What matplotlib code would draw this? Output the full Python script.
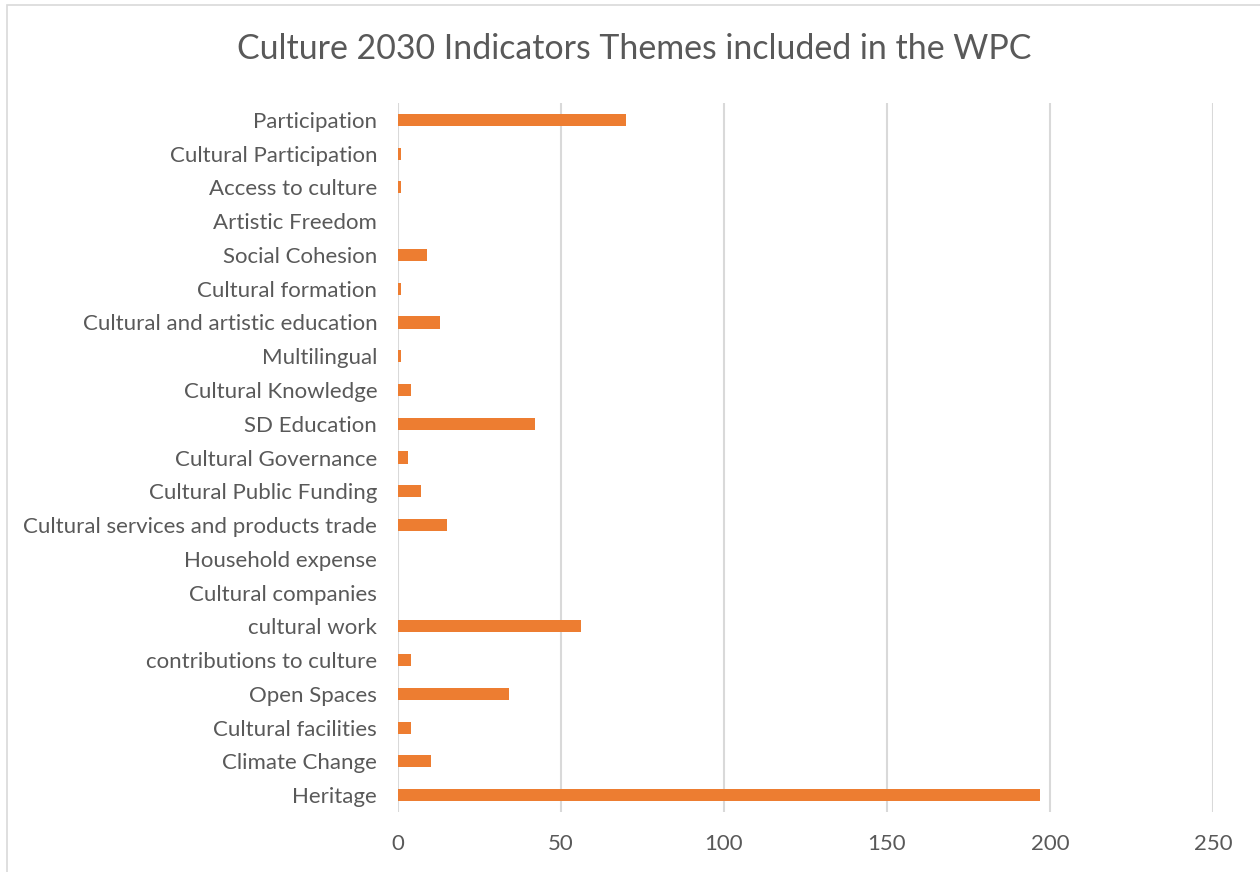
import matplotlib.pyplot as plt
from matplotlib.patches import Rectangle

# Themes from the Culture 2030 indicators, top to bottom as listed
themes = [
    "Participation", "Cultural Participation", "Access to culture",
    "Artistic Freedom", "Social Cohesion", "Cultural formation",
    "Cultural and artistic education", "Multilingual", "Cultural Knowledge",
    "SD Education", "Cultural Governance", "Cultural Public Funding",
    "Cultural services and products trade", "Household expense",
    "Cultural companies", "cultural work", "contributions to culture",
    "Open Spaces", "Cultural facilities", "Climate Change", "Heritage",
]
counts = [70, 1, 1, 0, 9, 1, 13, 1, 4, 42, 3, 7, 15, 0, 0, 56, 4, 34, 4, 10, 197]
x_ticks = [0, 50, 100, 150, 200, 250]

BAR = "#ed7d31"
GRID = "#d9d9d9"
TEXT = "#595959"

plt.rcParams['font.family'] = ['Lato', 'DejaVu Sans']

fig = plt.figure(figsize=(12.6, 8.72), dpi=100)
# chart area outline
fig.patches.append(Rectangle((7 / 1260, -0.01), 1.02, 1 - 5 / 872 + 0.01,
                             transform=fig.transFigure, fill=False,
                             edgecolor=GRID, linewidth=1.2))

ax = fig.add_axes([398 / 1260, 1 - 812 / 872, (1213 - 398) / 1260, (812 - 103) / 872])
pos = list(range(len(themes)))[::-1]
ax.barh(pos, counts, height=0.36, color=BAR, zorder=3)

ax.set_xlim(0, 250)
ax.set_ylim(-0.5, len(themes) - 0.5)
ax.set_xticks(x_ticks)
ax.set_xticklabels([str(t) for t in x_ticks])
ax.set_yticks(pos)
ax.set_yticklabels(themes)
ax.tick_params(axis='both', length=0, labelsize=16, colors=TEXT)
ax.tick_params(axis='x', pad=16)
ax.tick_params(axis='y', pad=15)
ax.grid(axis='x', color=GRID, linewidth=1.5, zorder=0)
for s in ax.spines.values():
    s.set_visible(False)

fig.suptitle("Culture 2030 Indicators Themes included in the WPC",
             x=0.503, y=1 - 49 / 872, va='center', fontsize=24.4, color=TEXT)

fig.savefig("out.png", dpi=100, facecolor="white")
